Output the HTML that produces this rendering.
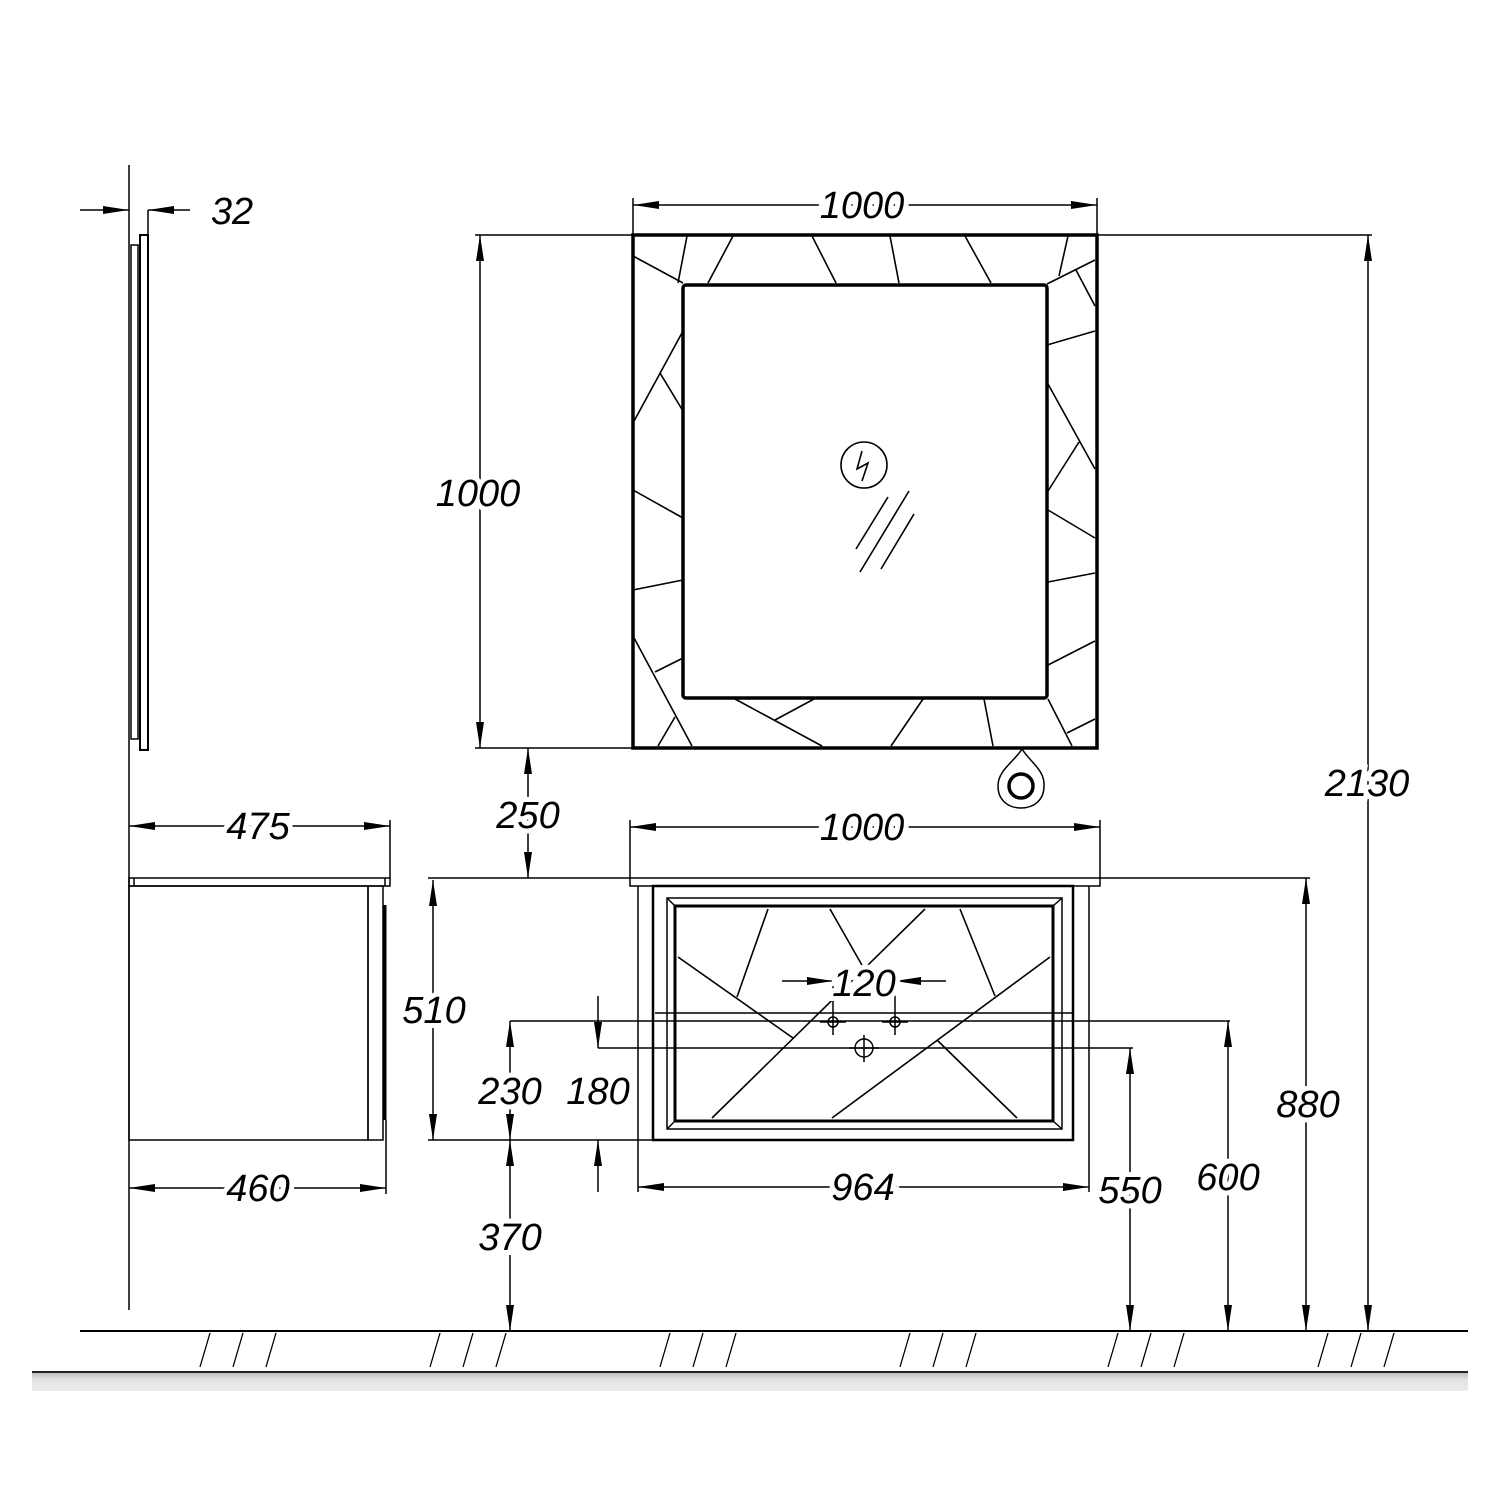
<!DOCTYPE html>
<html><head><meta charset="utf-8"><style>
html,body{margin:0;padding:0;background:#fff;}
svg{display:block;}
text{font-family:"Liberation Sans",sans-serif;font-style:italic;font-size:38px;fill:#000;text-anchor:middle;paint-order:stroke;stroke:#fff;stroke-width:10px;}
</style></head><body>
<svg width="1500" height="1500" viewBox="0 0 1500 1500" xmlns="http://www.w3.org/2000/svg">
<defs>
<marker id="ar" markerUnits="userSpaceOnUse" markerWidth="30" markerHeight="12" refX="26" refY="5" orient="auto-start-reverse" viewBox="0 0 30 10"><path d="M0,1 L26,5 L0,9 z" fill="#000"/></marker>
<linearGradient id="g" x1="0" y1="0" x2="0" y2="1"><stop offset="0" stop-color="#b8b8b8"/><stop offset="0.4" stop-color="#e2e2e2"/><stop offset="1" stop-color="#ececec"/></linearGradient>
</defs>
<g stroke="#000" fill="none" stroke-width="1.5">
<line x1="129" y1="165" x2="129" y2="1310"/>
<rect x="131" y="245" width="7" height="494"/>
<rect x="140" y="235" width="8" height="515" stroke-width="2"/>
<line x1="148" y1="210" x2="148" y2="235"/>
<line x1="80" y1="210" x2="129" y2="210" marker-end="url(#ar)"/>
<line x1="190" y1="210" x2="148" y2="210" marker-end="url(#ar)"/>

<rect x="633" y="235" width="464" height="513" stroke-width="3.5"/>
<rect x="683" y="285" width="364" height="413" rx="3" stroke-width="3.5"/>
<g stroke-width="1.6">
<path d="M633,256 L683,283 M687,236 L678,283 M733,236 L708,283 M812,236 L836,283 M890,236 L899,283 M965,236 L991,283 M1068,236 L1059,276 M1047,284 L1095,260 M1076,270 L1095,306"/>
<path d="M1047,345 L1095,331 M1048,384 L1095,469 M1079,442 L1048,491 M1048,510 L1095,538 M1048,582 L1095,573 M1048,665 L1095,641 M1048,699 L1072,746 M1067,733 L1095,719"/>
<path d="M683,331 L633,423 M660,373 L683,411 M633,490 L683,518 M633,590 L683,580 M633,636 L692,746 M655,672 L683,658 M675,717 L658,746"/>
<path d="M735,699 L822,746 M775,720 L814,699 M923,699 L891,746 M984,699 L993,746"/>
<circle cx="864" cy="465" r="23"/>
<path d="M862,451 L857,469 L868,463 L862,481"/>
<path d="M856,549 L888,497 M860,572 L909,491 M881,569 L914,514"/>
</g>
<path d="M1022,749 C1030,762 1045,770 1044,786 C1044,800 1034,808 1021,808 C1008,808 998,800 998,786 C998,770 1014,762 1022,749 z"/>
<circle cx="1021" cy="786" r="12" stroke-width="3.5"/>

<line x1="633" y1="198" x2="633" y2="235"/><line x1="1097" y1="198" x2="1097" y2="235"/>
<line x1="633" y1="205" x2="1097" y2="205" marker-start="url(#ar)" marker-end="url(#ar)"/>
<line x1="475" y1="235" x2="1372" y2="235"/>
<line x1="475" y1="748" x2="633" y2="748"/>
<line x1="480" y1="235" x2="480" y2="748" marker-start="url(#ar)" marker-end="url(#ar)"/>
<line x1="1368" y1="235" x2="1368" y2="1331" marker-start="url(#ar)" marker-end="url(#ar)"/>
<line x1="528" y1="748" x2="528" y2="878" marker-start="url(#ar)" marker-end="url(#ar)"/>

<line x1="630" y1="820" x2="630" y2="878"/><line x1="1100" y1="820" x2="1100" y2="878"/>
<line x1="630" y1="827" x2="1100" y2="827" marker-start="url(#ar)" marker-end="url(#ar)"/>
<rect x="630" y="878" width="470" height="8"/>
<line x1="1100" y1="878" x2="1310" y2="878"/>
<line x1="638" y1="886" x2="638" y2="1192"/>
<line x1="1089" y1="886" x2="1089" y2="1192"/>
<rect x="653" y="886" width="420" height="254" stroke-width="2.5"/>
<rect x="667" y="898" width="395" height="231"/>
<rect x="675" y="906" width="378" height="215" stroke-width="3"/>
<path d="M667,898 L675,906 M1062,898 L1053,906 M667,1129 L675,1121 M1062,1129 L1053,1121"/>
<g stroke-width="1.6">
<path d="M678,957 L793,1038 M768,909 L737,997 M830,909 L863,967 M925,909 L712,1118 M960,909 L995,996 M1050,957 L832,1118 M937,1040 L1017,1118"/>
</g>
<line x1="655" y1="1013" x2="1072" y2="1013"/>
<line x1="510" y1="1021" x2="1230" y2="1021"/>
<line x1="598" y1="1048" x2="1133" y2="1048"/>
<circle cx="833" cy="1022" r="5"/><circle cx="895" cy="1022" r="5"/><circle cx="864" cy="1048" r="9"/>
<path d="M820,1022 L846,1022 M882,1022 L908,1022 M849,1048 L879,1048 M864,1035 L864,1062"/>
<line x1="833" y1="981" x2="833" y2="1035"/><line x1="895" y1="981" x2="895" y2="1035"/>
<line x1="782" y1="981" x2="833" y2="981" marker-end="url(#ar)"/>
<line x1="946" y1="981" x2="895" y2="981" marker-end="url(#ar)"/>

<line x1="428" y1="1140" x2="653" y2="1140"/>
<line x1="433" y1="880" x2="433" y2="1140" marker-start="url(#ar)" marker-end="url(#ar)"/>
<line x1="428" y1="878" x2="630" y2="878"/>
<line x1="510" y1="1021" x2="510" y2="1140" marker-start="url(#ar)" marker-end="url(#ar)"/>
<line x1="510" y1="1140" x2="510" y2="1331" marker-start="url(#ar)" marker-end="url(#ar)"/>
<line x1="598" y1="996" x2="598" y2="1048" marker-end="url(#ar)"/>
<line x1="598" y1="1192" x2="598" y2="1140" marker-end="url(#ar)"/>
<line x1="638" y1="1187" x2="1089" y2="1187" marker-start="url(#ar)" marker-end="url(#ar)"/>
<line x1="1130" y1="1048" x2="1130" y2="1331" marker-start="url(#ar)" marker-end="url(#ar)"/>
<line x1="1228" y1="1021" x2="1228" y2="1331" marker-start="url(#ar)" marker-end="url(#ar)"/>
<line x1="1306" y1="878" x2="1306" y2="1331" marker-start="url(#ar)" marker-end="url(#ar)"/>

<rect x="129" y="878" width="261" height="8"/>
<path d="M134,878 L134,886 M385,878 L385,886"/>
<rect x="129" y="886" width="239" height="254"/>
<rect x="368" y="886" width="15" height="254"/>
<line x1="385" y1="905" x2="385" y2="1120" stroke-width="3"/>
<line x1="390" y1="820" x2="390" y2="878"/>
<line x1="386" y1="1120" x2="386" y2="1194"/>
<line x1="129" y1="826" x2="390" y2="826" marker-start="url(#ar)" marker-end="url(#ar)"/>
<line x1="129" y1="1188" x2="386" y2="1188" marker-start="url(#ar)" marker-end="url(#ar)"/>

<line x1="80" y1="1331" x2="1468" y2="1331" stroke-width="2"/>
<g stroke-width="1.3">
<path d="M200,1367 L210,1333 M233,1367 L243,1333 M266,1367 L276,1333"/>
<path d="M430,1367 L440,1333 M463,1367 L473,1333 M496,1367 L506,1333"/>
<path d="M660,1367 L670,1333 M693,1367 L703,1333 M726,1367 L736,1333"/>
<path d="M900,1367 L910,1333 M933,1367 L943,1333 M966,1367 L976,1333"/>
<path d="M1108,1367 L1118,1333 M1141,1367 L1151,1333 M1174,1367 L1184,1333"/>
<path d="M1318,1367 L1328,1333 M1351,1367 L1361,1333 M1384,1367 L1394,1333"/>
</g>
</g>
<rect x="32" y="1372" width="1436" height="19" fill="url(#g)"/>
<line x1="32" y1="1372" x2="1468" y2="1372" stroke="#222" stroke-width="2"/>

<text x="232" y="224">32</text>
<text x="862" y="218">1000</text>
<text x="478" y="506">1000</text>
<text x="1367" y="796">2130</text>
<text x="528" y="828">250</text>
<text x="862" y="840">1000</text>
<text x="258" y="839">475</text>
<text x="434" y="1023">510</text>
<text x="864" y="996">120</text>
<text x="510" y="1104">230</text>
<text x="598" y="1104">180</text>
<text x="258" y="1201">460</text>
<text x="863" y="1200">964</text>
<text x="1130" y="1203">550</text>
<text x="1228" y="1190">600</text>
<text x="1308" y="1117">880</text>
<text x="510" y="1250">370</text>
</svg>
</body></html>
